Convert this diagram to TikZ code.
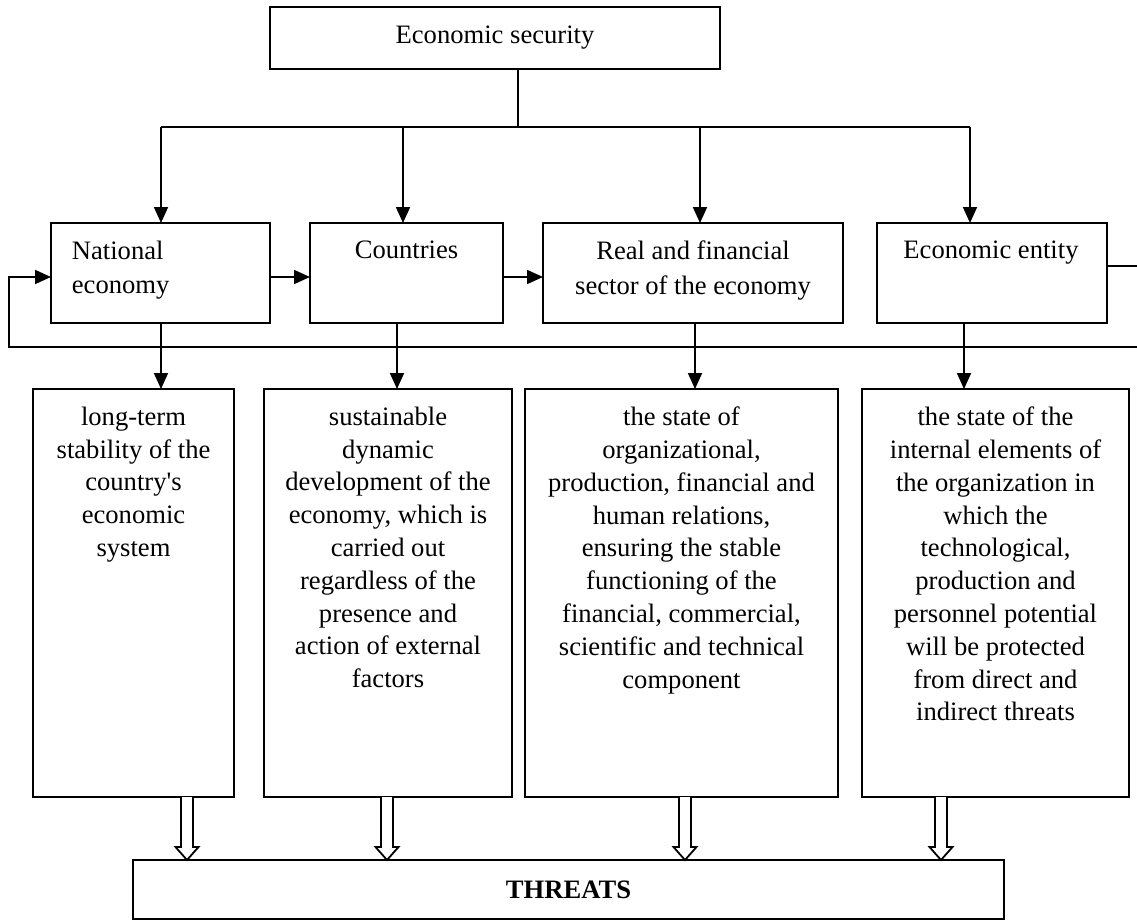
\documentclass[tikz,border=0pt]{standalone}
\usepackage{fontspec}
\setmainfont{Liberation Serif}[Ligatures=TeXOff]
\usetikzlibrary{arrows.meta}
\begin{document}
\begin{tikzpicture}[x=1pt,y=-1pt, line width=1.8pt,
  box/.style={draw, line width=1.8pt, inner sep=0pt, outer sep=0pt},
  txtA/.style={inner sep=0pt, font=\fontsize{26.6pt}{32.8pt}\selectfont, align=center, anchor=north},
  txtB/.style={inner sep=0pt, font=\fontsize{26.6pt}{34.5pt}\selectfont, align=center, anchor=north},
  arr/.style={-{Triangle[length=16pt,width=14pt]}, line width=1.8pt},
  hollow/.style={line width=1.8pt, fill=white, line join=miter}]
\useasboundingbox (0,0) rectangle (1137,920);

% top
\node[box, minimum width=450pt, minimum height=62pt, font=\fontsize{26.6pt}{32.8pt}\selectfont] (top) at (495,38) {Economic security};

% row 2
\node[box, minimum width=219pt, minimum height=100pt] (nat) at (160.5,273) {};
\node[box, minimum width=193pt, minimum height=100pt] (cou) at (406.5,273) {};
\node[box, minimum width=300pt, minimum height=100pt] (real) at (693,273) {};
\node[box, minimum width=230pt, minimum height=100pt] (ent) at (992,273) {};
\node[txtB, align=left, anchor=north west] (natt) at (71,240) {National\\economy};
\node[txtB] (cout) at (406.5,240) {Countries};
\node[txtB] (realt) at (693,240) {Real and financial\\sector of the economy};
\node[txtB] (entt) at (991,240) {Economic entity};

% row 3
\node[box, minimum width=201pt, minimum height=408pt] (b1) at (133.5,593) {};
\node[box, minimum width=248pt, minimum height=408pt] (b2) at (388,593) {};
\node[box, minimum width=313pt, minimum height=408pt] (b3) at (681.5,593) {};
\node[box, minimum width=267pt, minimum height=408pt] (b4) at (995.5,593) {};
\node[txtA] (t1) at (133.5,406) {long-term\\stability of the\\country's\\economic\\system};
\node[txtA] (t2) at (388,406) {sustainable\\dynamic\\development of the\\economy, which is\\carried out\\regardless of the\\presence and\\action of external\\factors};
\node[txtA] (t3) at (681.5,406) {the state of\\organizational,\\production, financial and\\human relations,\\ensuring the stable\\functioning of the\\financial, commercial,\\scientific and technical\\component};
\node[txtA] (t4) at (995.5,406) {the state of the\\internal elements of\\the organization in\\which the\\technological,\\production and\\personnel potential\\will be protected\\from direct and\\indirect threats};

% threats
\node[box, minimum width=871pt, minimum height=59pt, font=\fontsize{26.6pt}{32.8pt}\selectfont\bfseries] (thr) at (568.5,889.5) {THREATS};

% top bus
\coordinate (tp) at (518,127);
\coordinate (j1) at (161,127);
\coordinate (j2) at (403,127);
\coordinate (j3) at (700,127);
\coordinate (j4) at (970,127);
\draw (top.south -| tp) -- (tp);
\draw (j1) -- (j4);
\draw[arr] (j1) -- (j1 |- nat.north);
\draw[arr] (j2) -- (j2 |- cou.north);
\draw[arr] (j3) -- (j3 |- real.north);
\draw[arr] (j4) -- (j4 |- ent.north);

% horizontal arrows and loop
\coordinate (h) at (0,277);
\coordinate (lr) at (1140,266);
\coordinate (lb) at (9,347);
\draw[arr] (nat.east |- h) -- (cou.west |- h);
\draw[arr] (cou.east |- h) -- (real.west |- h);
\draw[arr] (ent.east |- lr) -- (lr) -- (lr |- lb) -- (lb) -- (lb |- h) -- (nat.west |- h);

% down arrows row 2 -> row 3
\coordinate (d1) at (161,0);
\coordinate (d2) at (397,0);
\coordinate (d3) at (695,0);
\coordinate (d4) at (964,0);
\draw[arr] (d1 |- nat.south) -- (d1 |- b1.north);
\draw[arr] (d2 |- cou.south) -- (d2 |- b2.north);
\draw[arr] (d3 |- real.south) -- (d3 |- b3.north);
\draw[arr] (d4 |- ent.south) -- (d4 |- b4.north);

% hollow arrows to threats
\foreach \x in {187,387,685,941}
  \draw[hollow] ({\x-6},797) -- ({\x-6},847) -- ({\x-11.5},847) -- (\x,860) -- ({\x+11.5},847) -- ({\x+6},847) -- ({\x+6},797);
\end{tikzpicture}
\end{document}
